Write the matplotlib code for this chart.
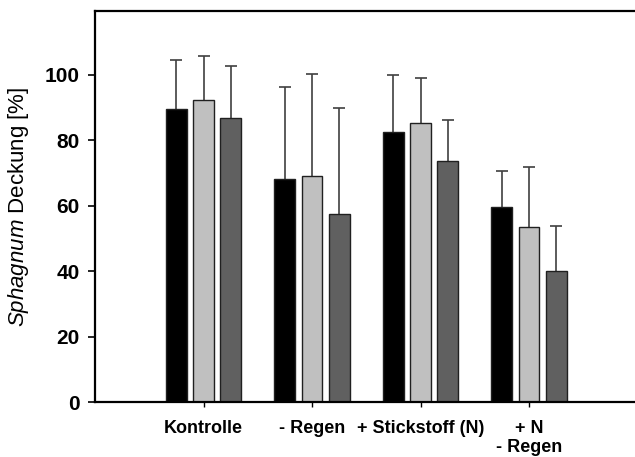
import numpy as np
import matplotlib
matplotlib.use("Agg")
import matplotlib.pyplot as plt

# treatments and three series per treatment
groups = ["Kontrolle", "- Regen", "+ Stickstoff (N)", "+ N\n- Regen"]
series_a = [89.5, 68.1, 82.6, 59.6]
series_b = [92.4, 69.2, 85.2, 53.5]
series_c = [86.9, 57.5, 73.6, 40.2]
# upper ends of the error bars
top_a = [104.5, 96.2, 99.9, 70.6]
top_b = [105.7, 100.2, 98.9, 71.8]
top_c = [102.7, 89.8, 86.2, 53.7]

plt.rcParams['font.family'] = ['Liberation Sans', 'DejaVu Sans']
plt.rcParams['mathtext.fontset'] = 'custom'
plt.rcParams['mathtext.it'] = 'Liberation Sans:italic'
plt.rcParams['mathtext.rm'] = 'Liberation Sans'

fig = plt.figure(figsize=(6.35, 4.57), dpi=100)
ax = fig.add_axes([95 / 635, 54.7 / 457, 540 / 635, 391.3 / 457])

x = np.arange(1, len(groups) + 1)
width = 0.193
offset = 0.25
colors = ["#000000", "#c0c0c0", "#606060"]

for vals, tops, dx, col in zip([series_a, series_b, series_c],
                               [top_a, top_b, top_c],
                               [-offset, 0, offset], colors):
    vals = np.array(vals)
    err = np.array(tops) - vals
    ax.bar(x + dx, vals, width, color=col, edgecolor="#202020", linewidth=1.0, zorder=2)
    eb = ax.errorbar(x + dx, vals, yerr=[np.zeros_like(err), err], fmt="none",
                     ecolor="#404040", elinewidth=1.2, capsize=4, capthick=1.2, zorder=1)
    # only the upper cap is drawn
    eb[1][0].set_visible(False)

ax.set_xlim(0, 540 / 108.5)
ax.set_ylim(0, 119.5)
ax.set_xticks(x)
ax.set_xticklabels(groups, fontsize=13, fontweight="bold", linespacing=1.2)
ax.set_yticks(np.arange(0, 101, 20))
ax.tick_params(axis="y", labelsize=15, length=5, width=1.2, direction="out", pad=6)
for lab in ax.get_yticklabels():
    lab.set_fontweight("bold")
ax.tick_params(axis="x", length=3.5, width=1.0, direction="out", pad=9)
ax.set_ylabel(r"$\mathit{Sphagnum}$ Deckung [%]", fontsize=16, labelpad=10)

for s in ["left", "top", "bottom"]:
    ax.spines[s].set_linewidth(1.6)
ax.spines["right"].set_visible(False)

fig.savefig("out.png", dpi=100)
